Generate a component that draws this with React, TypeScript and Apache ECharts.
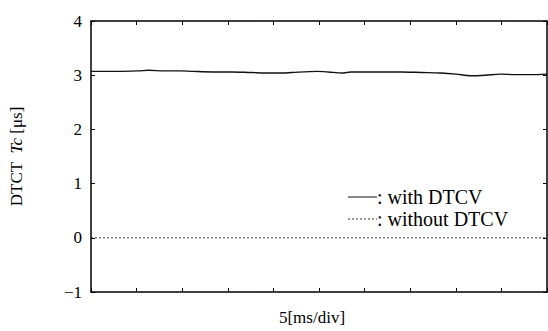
import React, { useEffect, useRef } from "react";
import * as echarts from "echarts";

const withX = [0, 0.3, 0.6, 1.05, 1.26, 1.6, 1.95, 2.24, 2.67, 3.1, 3.5, 3.93, 4.2, 4.4, 4.96, 5.2, 5.5, 5.7, 6.3, 6.8, 7.25, 7.67, 8.0, 8.33, 8.65, 8.98, 9.3, 9.65, 10];
const withY = [3.07, 3.07, 3.07, 3.08, 3.09, 3.08, 3.08, 3.07, 3.06, 3.06, 3.05, 3.04, 3.04, 3.05, 3.07, 3.06, 3.04, 3.06, 3.06, 3.06, 3.05, 3.04, 3.02, 2.99, 3.0, 3.02, 3.01, 3.01, 3.02];
const withoutX = [0, 10];
const withoutY = [0, 0];
const yTicks = [-1, 0, 1, 2, 3, 4];
const legendNames = ["with DTCV", "without DTCV"];

const FONT = "Liberation Serif";

export default function App() {
  const ref = useRef<HTMLDivElement>(null);
  useEffect(() => {
    if (!ref.current) return;
    const chart = echarts.init(ref.current, undefined, { renderer: "svg" });
    const axisLine = { show: true, onZero: false, lineStyle: { color: "#000", width: 1.5 } };
    const tickIn = { show: true, inside: true, length: 4, lineStyle: { color: "#000", width: 1 } };
    chart.setOption({
      animation: false,
      backgroundColor: "#fff",
      grid: { left: 87, right: 1, top: 21, bottom: 30, containLabel: false },
      xAxis: [
        {
          type: "value", min: 0, max: 10, interval: 1, position: "bottom",
          axisLine, axisTick: tickIn, axisLabel: { show: false }, splitLine: { show: false },
          name: "5[ms/div]", nameLocation: "middle", nameGap: 17,
          nameTextStyle: { fontFamily: FONT, fontSize: 17, color: "#000", padding: [0, 14, 0, 0] },
        },
        {
          type: "value", min: 0, max: 10, interval: 1, position: "top",
          axisLine, axisTick: tickIn, axisLabel: { show: false }, splitLine: { show: false },
        },
      ],
      yAxis: [
        {
          type: "value", min: -1, max: 4, interval: 1, position: "left",
          axisLine, axisTick: tickIn, splitLine: { show: false },
          axisLabel: {
            fontFamily: FONT, fontSize: 17, color: "#000", margin: 9,
            formatter: (v: number) => (yTicks.includes(v) ? (v < 0 ? "\u2212" + Math.abs(v) : String(v)) : ""),
          },
          name: "{a|DTCT  }{b|Tc}{a| [\u03bcs]}", nameLocation: "middle", nameGap: 66, nameRotate: 90,
          nameTextStyle: {
            rich: {
              a: { fontFamily: FONT, fontSize: 17, color: "#000" },
              b: { fontFamily: FONT, fontSize: 17, color: "#000", fontStyle: "italic" },
            },
          },
        },
        {
          type: "value", min: -1, max: 4, interval: 1, position: "right",
          axisLine, axisTick: tickIn, axisLabel: { show: false }, splitLine: { show: false },
        },
      ],
      series: [
        {
          name: legendNames[0], type: "line", showSymbol: false, smooth: 0.3,
          data: withX.map((x, i) => [x, withY[i]]),
          lineStyle: { color: "#111", width: 1.4 },
        },
        {
          name: legendNames[1], type: "line", showSymbol: false,
          data: withoutX.map((x, i) => [x, withoutY[i]]),
          lineStyle: { color: "#333", width: 1, type: [2, 2] },
        },
      ],
      graphic: [
        { type: "line", shape: { x1: 348, y1: 197, x2: 377, y2: 197 }, style: { stroke: "#111", lineWidth: 1 } },
        { type: "text", x: 377, y: 197, style: { text: ": " + legendNames[0], fontFamily: FONT, fontSize: 20, fill: "#000", verticalAlign: "middle" } },
        { type: "line", shape: { x1: 348, y1: 219, x2: 377, y2: 219 }, style: { stroke: "#333", lineWidth: 1, lineDash: [2, 2] } },
        { type: "text", x: 377, y: 219, style: { text: ": " + legendNames[1], fontFamily: FONT, fontSize: 20, fill: "#000", verticalAlign: "middle" } },
      ],
    });
    return () => chart.dispose();
  }, []);
  return <div ref={ref} style={{ width: 548, height: 331, position: "absolute", left: 0, top: 0 }} />;
}
